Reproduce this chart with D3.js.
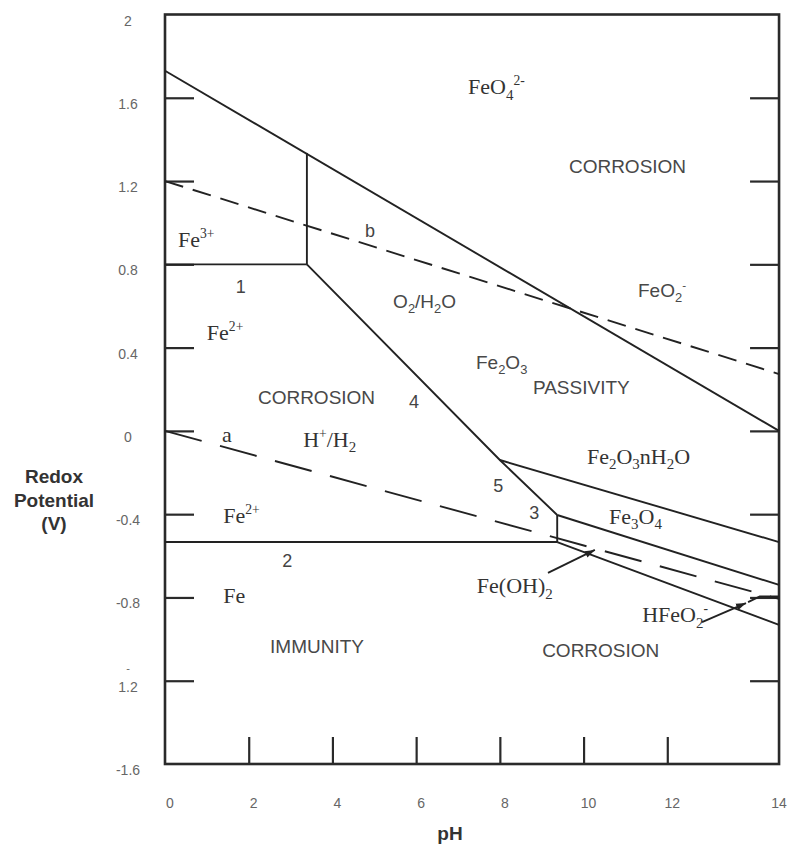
<!DOCTYPE html>
<html>
<head>
<meta charset="utf-8">
<title>Pourbaix diagram of iron</title>
<style>
  body { margin: 0; background: #fff; }
</style>
</head>
<body>
<svg id="lienzo" width="789" height="847"></svg>
<script src="https://cdnjs.cloudflare.com/ajax/libs/d3/7.8.5/d3.min.js"></script>
<script>
// ticks and tick labels
const xTicks = [2, 4, 6, 8, 10, 12];
const xLabelValues = [0, 2, 4, 6, 8, 10, 12, 14];
const yTicks = [1.6, 1.2, 0.8, 0.4, 0, -0.4, -0.8, -1.2];
const yLabelValues = [2, 1.6, 1.2, 0.8, 0.4, 0, -0.4, -0.8, -1.2, -1.6];
const yLabelTexts = ["2", "1.6", "1.2", "0.8", "0.4", "0", "-0.4", "-0.8", "-\n1.2", "-1.6"];

const pHMax = 14.67; // the frame runs a little past the "14" tick

// boundaries, [pH, E(V)]
const lineFeO4 = [[0, 1.73], [pHMax, 0.0]];
const lineFe3Vertical = [[3.39, 1.335], [3.39, 0.80]];
const line1 = [[0, 0.80], [3.39, 0.80]];
const line4 = [[3.39, 0.80], [8.0, -0.14], [9.37, -0.404]];
const lineHydrate = [[8.0, -0.14], [pHMax, -0.534]];
const lineFe3O4 = [[9.37, -0.404], [pHMax, -0.74]];
const line3 = [[9.37, -0.404], [9.37, -0.534]];
const line2 = [[0, -0.534], [9.37, -0.534]];
const lineFeOH2 = [[9.37, -0.534], [pHMax, -0.932]];
const lineHFeO2 = [[13.93, -0.822], [14.21, -0.795], [pHMax, -0.795]];
const solidLines = [lineFeO4, lineFe3Vertical, line1, line4, lineHydrate, lineFe3O4, line3, line2, lineFeOH2, lineHFeO2];

// water lines
const lineA = [[0, 0], [pHMax, -0.807]];   // H+/H2
const lineB = [[0, 1.20], [pHMax, 0.273]]; // O2/H2O

// pointer arrows
const arrows = [
  [[9.15, -0.682], [10.27, -0.572]],
  [[12.83, -0.918], [13.88, -0.827]]
];

// labels [text, pH, E] (left edge, baseline)
const serifLabels = [
  ["FeO_{4}^{2-}", 7.24, 1.618],
  ["Fe^{3+}", 0.31, 0.883],
  ["Fe^{2+}", 1.00, 0.437],
  ["H^{+}/H_{2}", 3.30, -0.077],
  ["Fe_{2}O_{3}nH_{2}O", 10.08, -0.159],
  ["Fe^{2+}", 1.39, -0.442],
  ["Fe_{3}O_{4}", 10.61, -0.447],
  ["Fe(OH)_{2}", 7.45, -0.779],
  ["Fe", 1.39, -0.827],
  ["HFeO_{2}^{-}", 11.40, -0.918],
  ["a", 1.36, -0.053]
];
const sansLabels = [
  ["CORROSION", 9.65, 1.239],
  ["O_{2}/H_{2}O", 5.45, 0.590],
  ["FeO_{2}^{-}", 11.30, 0.643],
  ["Fe_{2}O_{3}", 7.43, 0.297],
  ["PASSIVITY", 8.79, 0.177],
  ["CORROSION", 2.22, 0.129],
  ["IMMUNITY", 2.51, -1.067],
  ["CORROSION", 9.01, -1.086]
];
const numberLabels = [
  ["b", 4.78, 0.931],
  ["1", 1.69, 0.662],
  ["4", 5.83, 0.110],
  ["5", 7.84, -0.293],
  ["3", 8.70, -0.423],
  ["2", 2.80, -0.654]
];

const svg = d3.select("#lienzo");

const x = d3.scaleLinear().domain([0, 14]).range([165, 751]);
const y = d3.scaleLinear().domain([-1.6, 2]).range([764, 14.5]);

// rich text: _{sub} and ^{sup}
function richText(sel, str, fs) {
  const parts = str.split(/(_\{[^}]*\}|\^\{[^}]*\})/).filter(s => s.length);
  let shift = 0;
  parts.forEach(p => {
    let target = 0, txt = p, size = fs;
    if (p[0] === "_") { target = 0.25 * fs; txt = p.slice(2, -1); size = fs * 0.68; }
    else if (p[0] === "^") { target = -0.42 * fs; txt = p.slice(2, -1); size = fs * 0.62; }
    sel.append("tspan").attr("dy", target - shift).attr("font-size", size).text(txt);
    shift = target;
  });
}

// arrow head
svg.append("defs").append("marker")
  .attr("id", "head")
  .attr("viewBox", "0 0 10 10")
  .attr("refX", 10).attr("refY", 5)
  .attr("markerWidth", 10).attr("markerHeight", 10)
  .attr("markerUnits", "userSpaceOnUse")
  .attr("orient", "auto")
  .append("path").attr("d", "M0,1.5L10,5L0,8.5Z").attr("fill", "#222");

const line = d3.line().x(d => x(d[0])).y(d => y(d[1]));

// inner ticks
svg.append("g")
  .attr("transform", "translate(0," + y(-1.6) + ")")
  .call(d3.axisBottom(x).tickValues(xTicks).tickSize(-27).tickSizeOuter(0).tickFormat(""));
svg.append("g")
  .attr("transform", "translate(" + x(0) + ",0)")
  .call(d3.axisLeft(y).tickValues(yTicks).tickSize(-29).tickSizeOuter(0).tickFormat(""));
svg.append("g")
  .attr("transform", "translate(" + x(pHMax) + ",0)")
  .call(d3.axisRight(y).tickValues(yTicks).tickSize(-29).tickSizeOuter(0).tickFormat(""));
svg.selectAll(".domain").remove();
svg.selectAll(".tick line").attr("stroke", "#2a2a2a").attr("stroke-width", 2.2);

// frame
svg.append("rect")
  .attr("x", x(0)).attr("y", y(2))
  .attr("width", x(pHMax) - x(0)).attr("height", y(-1.6) - y(2))
  .attr("fill", "none").attr("stroke", "#2a2a2a").attr("stroke-width", 2.6);

// boundaries
svg.selectAll(".boundary")
  .data(solidLines)
  .enter().append("path")
  .attr("class", "boundary")
  .attr("d", line)
  .attr("fill", "none").attr("stroke", "#222").attr("stroke-width", 1.9);

svg.append("path").attr("d", line(lineA))
  .attr("fill", "none").attr("stroke", "#222").attr("stroke-width", 1.9)
  .attr("stroke-dasharray", "38,19");
svg.append("path").attr("d", line(lineB))
  .attr("fill", "none").attr("stroke", "#222").attr("stroke-width", 1.9)
  .attr("stroke-dasharray", "19,10");

svg.selectAll(".arrow")
  .data(arrows)
  .enter().append("path")
  .attr("class", "arrow")
  .attr("d", line)
  .attr("fill", "none").attr("stroke", "#222").attr("stroke-width", 1.9)
  .attr("marker-end", "url(#head)");

// region labels
function drawLabels(data, family, fs, color) {
  data.forEach(d => {
    const t = svg.append("text")
      .attr("x", x(d[1])).attr("y", y(d[2]))
      .attr("font-family", family)
      .attr("font-size", fs)
      .attr("fill", color);
    richText(t, d[0], fs);
  });
}
drawLabels(serifLabels, "'Liberation Serif', 'Times New Roman', serif", 22, "#333");
drawLabels(sansLabels, "'Liberation Sans', Arial, sans-serif", 19, "#484848");
drawLabels(numberLabels, "'Liberation Sans', Arial, sans-serif", 18, "#444");

// tick labels ("14" sits at the frame edge, pulled in to stay on the page)
svg.selectAll(".xlab")
  .data(xLabelValues)
  .enter().append("text")
  .attr("class", "xlab")
  .attr("x", d => d === 14 ? x(pHMax) : x(d) + 5)
  .attr("y", 808)
  .attr("text-anchor", "middle")
  .attr("font-family", "'Liberation Sans', Arial, sans-serif")
  .attr("font-size", 14)
  .attr("fill", "#666")
  .text(d => d);

yLabelValues.forEach((v, i) => {
  const t = svg.append("text")
    .attr("x", 128).attr("y", y(v) + 11)
    .attr("text-anchor", "middle")
    .attr("font-family", "'Liberation Sans', Arial, sans-serif")
    .attr("font-size", 14)
    .attr("fill", "#666");
  const lines = yLabelTexts[i].split("\n");
  if (lines.length === 1) {
    t.text(lines[0]);
  } else {
    t.append("tspan").attr("x", 128).attr("dy", -20).attr("font-size", 11).text(lines[0]);
    t.append("tspan").attr("x", 128).attr("dy", 20).text(lines[1]);
  }
});

// axis titles
const yTitle = svg.append("text")
  .attr("text-anchor", "middle")
  .attr("font-family", "'Liberation Sans', Arial, sans-serif")
  .attr("font-weight", "bold")
  .attr("font-size", 19)
  .attr("fill", "#333");
["Redox", "Potential", "(V)"].forEach((s, i) => {
  yTitle.append("tspan").attr("x", 54).attr("y", 483 + i * 23.5).text(s);
});

svg.append("text")
  .attr("x", 450).attr("y", 840)
  .attr("text-anchor", "middle")
  .attr("font-family", "'Liberation Sans', Arial, sans-serif")
  .attr("font-weight", "bold")
  .attr("font-size", 19)
  .attr("fill", "#333")
  .text("pH");
</script>
</body>
</html>
